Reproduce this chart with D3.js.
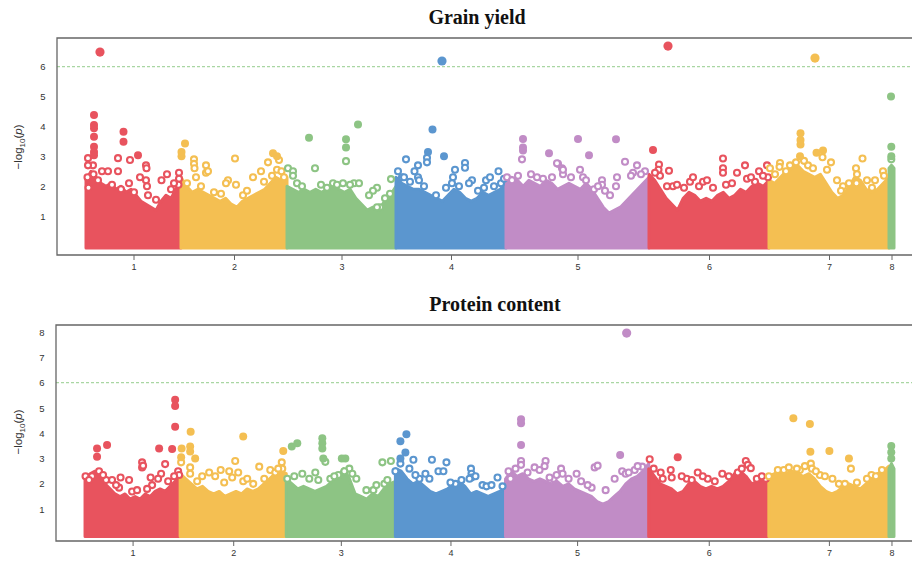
<!DOCTYPE html>
<html>
<head>
<meta charset="utf-8">
<script src="https://cdn.jsdelivr.net/npm/d3@7"></script>
<style>
  body { margin: 0; background: #fff; }
  svg { display: block; }
  .tick text { font-family: "Liberation Sans", Arial, sans-serif; fill: #333; }
  .title { font-family: "Liberation Serif", "Times New Roman", serif; font-weight: bold; font-size: 20px; fill: #111; }
  .ylab { font-family: "Liberation Sans", Arial, sans-serif; font-size: 11.5px; fill: #333; }
</style>
</head>
<body>
<svg id="chart" width="912" height="564"></svg>
<script>
// chromosomes and their lengths (Mb)
const chromosomes = ["1", "2", "3", "4", "5", "6", "7", "8"];
const chromLengths = [190, 212, 218, 220, 286, 240, 240, 10];
const chromColors = ["#e8535e", "#f4bf52", "#8dc484", "#5b96cf", "#c18cc6", "#e8535e", "#f4bf52", "#8dc484"];
const threshold = 6;

// upper edge of the dense SNP cloud, sampled evenly along each chromosome
const yieldEnvelope = [
    [2.2, 2.5, 2.3, 2.1, 2.0, 2.1, 1.9, 2.0, 1.8, 1.9, 1.7, 1.5, 1.4, 1.3, 1.2, 1.5, 1.7, 1.6, 1.9, 2.3],
    [2.3, 2.0, 1.8, 1.9, 1.8, 1.7, 1.6, 1.5, 1.6, 1.4, 1.3, 1.5, 1.6, 1.7, 1.8, 1.9, 2.1, 2.3, 2.2, 2.3],
    [2.0, 1.9, 1.8, 1.9, 1.8, 1.9, 1.8, 1.9, 2.0, 1.9, 1.8, 1.9, 1.6, 1.4, 1.2, 1.3, 1.2, 1.5, 1.7, 2.0],
    [2.3, 2.1, 2.0, 1.9, 1.9, 1.8, 1.7, 1.6, 1.5, 1.7, 1.9, 1.8, 1.6, 1.5, 1.6, 1.8, 1.7, 1.8, 1.9, 2.1],
    [2.1, 2.3, 2.2, 2.0, 2.2, 2.1, 2.0, 2.2, 2.1, 1.9, 2.0, 2.1, 2.0, 1.9, 2.1, 1.9, 1.6, 1.3, 1.1, 1.2, 1.3, 1.5, 1.7, 1.9, 2.1, 2.3],
    [2.4, 2.2, 1.9, 1.6, 1.4, 1.2, 1.6, 1.8, 1.7, 1.5, 1.6, 1.5, 1.7, 1.8, 1.6, 1.7, 1.9, 1.8, 2.0, 2.1, 2.0, 2.2],
    [2.2, 2.1, 2.3, 2.5, 2.6, 2.7, 2.5, 2.4, 2.3, 2.4, 2.1, 1.8, 1.6, 1.7, 2.0, 2.3, 2.2, 1.9, 1.8, 1.9, 2.1, 2.3],
    [2.6, 2.7, 2.6]
];
const proteinEnvelope = [
    [2.2, 2.4, 2.5, 2.3, 2.0, 1.8, 1.6, 1.5, 1.6, 1.4, 1.5, 1.4, 1.6, 1.5, 1.7, 1.8, 1.7, 1.9, 2.1, 2.4],
    [2.4, 2.2, 2.0, 1.8, 1.9, 1.7, 1.6, 1.7, 1.5, 1.6, 1.7, 1.6, 1.8, 1.7, 1.8, 2.0, 2.2, 2.4, 2.5, 2.4],
    [2.2, 2.0, 1.8, 1.9, 1.8, 1.7, 1.8, 1.9, 2.1, 2.3, 2.6, 2.2, 1.6, 1.5, 1.4, 1.6, 1.5, 1.8, 2.0, 2.1],
    [2.6, 2.5, 2.2, 2.0, 2.1, 1.9, 1.7, 1.6, 1.7, 1.8, 2.0, 2.1, 1.9, 1.6, 1.7, 1.6, 1.5, 1.6, 1.7, 1.8],
    [2.2, 2.5, 2.3, 2.4, 2.2, 2.1, 2.2, 2.1, 2.0, 2.1, 1.9, 2.0, 1.8, 1.7, 1.6, 1.5, 1.3, 1.2, 1.3, 1.5, 1.7, 2.0, 2.2, 2.3, 2.5, 2.8],
    [2.6, 2.3, 2.0, 1.9, 1.8, 1.6, 1.7, 2.0, 2.1, 1.9, 1.8, 1.9, 1.8, 1.9, 2.1, 2.4, 2.5, 2.3, 2.0, 2.1, 2.2, 2.1],
    [2.3, 2.4, 2.5, 2.4, 2.5, 2.4, 2.3, 2.4, 2.2, 1.9, 1.7, 1.6, 1.7, 1.9, 2.0, 1.9, 1.8, 2.0, 2.2, 2.4, 2.5, 2.7],
    [2.6, 2.8, 2.6]
];

// single SNPs above and along the top of the cloud: [chromosome, position (Mb), -log10(p)]
const yieldPoints = [
    [1,28,6.49],[1,16,4.38],[1,16,4.05],[1,16,3.94],[1,16,3.66],[1,16,3.32],[1,16,3.15],[1,16,3.04],[1,14,2.7],[1,15,2.4],
    [1,75,3.82],[1,75,3.49],[1,64,2.94],[1,88,2.88],[1,104,3.04],[1,120,2.7],[1,121,2.6],
    [1,4,2.94],[1,4,2.7],[1,3,2.3],[1,5,1.95],[1,32,2.5],[1,44,2.5],[1,64,2.5],[1,86,2.1],[1,108,2.3],
    [1,120,2.2],[1,122,2.0],[1,151,2.2],[1,162,2.4],[1,186,2.45],[1,186,2.25],[1,185,2.05],[1,124,1.7],
    [1,24,2.2],[1,52,2.05],[1,70,1.9],[1,96,1.8],[1,140,1.55],[1,170,1.9],[1,176,2.1],
    [2,8,3.43],[2,1,3.15],[2,1,3.0],[2,26,2.9],[2,26,2.75],[2,27,2.6],[2,50,2.7],[2,50,2.45],[2,54,2.5],
    [2,30,2.3],[2,108,2.93],[2,94,2.2],[2,90,2.1],[2,110,2.05],[2,124,1.7],[2,144,2.3],[2,160,2.5],
    [2,174,2.8],[2,184,3.1],[2,192,3.0],[2,196,2.88],[2,192,2.55],[2,201,2.5],
    [2,12,2.1],[2,40,2.0],[2,66,1.8],[2,80,1.75],[2,132,1.85],[2,166,2.15],[2,182,2.35],[2,206,2.3],
    [3,44,3.62],[3,56,2.6],[3,2,2.6],[3,12,2.5],[3,12,2.35],[3,20,2.1],[3,142,4.07],[3,118,3.57],
    [3,118,3.3],[3,118,2.84],[3,92,2.1],[3,100,2.05],[3,134,2.1],[3,144,2.1],[3,180,1.95],[3,172,1.85],
    [3,208,2.24],[3,186,1.3],[3,180,1.3],[3,164,1.7],[3,206,1.75],
    [3,30,2.0],[3,68,2.05],[3,80,1.95],[3,112,2.1],[3,126,2.05],[3,196,1.6],
    [4,92,6.19],[4,73,3.9],[4,64,3.15],[4,62,2.95],[4,62,2.8],[4,20,2.9],[4,96,3.0],[4,44,2.7],[4,37,2.5],
    [4,44,2.3],[4,46,2.2],[4,4,2.5],[4,12,2.3],[4,16,2.3],[4,138,2.78],[4,138,2.62],[4,118,2.55],
    [4,114,2.3],[4,112,2.1],[4,152,2.2],[4,146,2.1],[4,180,2.2],[4,188,2.3],[4,205,2.5],[4,210,2.1],
    [4,176,1.95],[4,80,1.7],
    [4,28,2.15],[4,56,2.0],[4,100,1.95],[4,126,2.0],[4,164,1.85],[4,196,2.0],[4,216,2.25],
    [5,34,3.58],[5,34,3.3],[5,34,3.2],[5,32,2.9],[5,86,3.1],[5,62,2.3],[5,2,2.3],[5,12,2.2],[5,104,2.75],
    [5,112,2.6],[5,114,2.4],[5,144,3.58],[5,166,3.04],[5,102,2.77],[5,114,2.55],[5,148,2.55],[5,154,2.3],
    [5,220,3.57],[5,238,2.82],[5,262,2.7],[5,254,2.45],[5,250,2.35],[5,278,2.5],[5,192,2.2],[5,192,2.05],
    [5,222,2.3],[5,220,2.0],[5,176,1.9],[5,198,1.85],[5,50,2.4],
    [5,24,2.35],[5,74,2.25],[5,92,2.3],[5,130,2.3],[5,160,2.2],[5,184,2.0],[5,208,1.7],[5,270,2.4],
    [6,38,6.69],[6,8,3.21],[6,20,2.73],[6,19,2.55],[6,40,2.52],[6,22,2.35],[6,36,2.0],[6,48,2.0],[6,56,2.05],
    [6,82,2.15],[6,88,2.3],[6,100,2.0],[6,108,2.15],[6,116,2.2],[6,148,2.93],[6,148,2.6],[6,148,2.45],
    [6,154,2.05],[6,176,2.45],[6,192,2.7],[6,196,2.25],[6,220,2.5],[6,212,2.15],[6,236,2.7],[6,238,2.3],
    [6,12,2.45],[6,70,1.95],[6,128,1.95],[6,166,2.1],[6,204,2.3],[6,228,2.35],
    [7,92,6.29],[7,63,3.77],[7,63,3.55],[7,63,3.4],[7,62,3.0],[7,95,3.12],[7,108,3.2],[7,107,2.97],
    [7,124,2.8],[7,22,2.78],[7,21,2.65],[7,42,2.7],[7,78,2.7],[7,187,2.93],[7,174,2.6],[7,176,2.4],
    [7,175,2.1],[7,212,2.2],[7,228,2.5],[7,230,2.35],[7,148,2.0],[7,144,1.85],[7,206,1.95],[7,2,2.6],
    [7,12,2.4],[7,34,2.5],[7,54,2.8],[7,70,2.85],[7,88,2.6],[7,116,2.55],[7,136,2.2],[7,160,2.1],[7,196,2.2],
    [8,4,5.0],[8,4.6,3.32],[8,4.6,3.0],[8,4.6,2.9]
];
const proteinPoints = [
    [1,180,5.32],[1,180,5.08],[1,180,4.26],[1,44,3.54],[1,24,3.4],[1,24,3.07],[1,148,3.4],[1,174,3.38],
    [1,114,2.85],[1,114,2.65],[1,116,2.72],[1,160,2.78],[1,152,2.4],[1,146,2.2],[1,1,2.3],[1,14,2.3],
    [1,28,2.5],[1,42,2.15],[1,54,2.15],[1,71,2.25],[1,88,2.15],[1,68,1.85],[1,94,1.7],[1,131,2.25],
    [1,134,1.95],[1,186,2.5],[1,188,2.35],
    [1,8,2.15],[1,36,2.35],[1,62,1.95],[1,104,1.75],[1,124,1.8],[1,166,2.1],[1,178,2.3],
    [2,21,4.06],[2,3,3.4],[2,20,3.48],[2,20,3.28],[2,30,3.0],[2,2,3.05],[2,2,2.85],[2,20,2.65],[2,20,2.4],
    [2,126,3.87],[2,110,2.9],[2,158,2.68],[2,81,2.55],[2,98,2.5],[2,116,2.45],[2,104,2.25],[2,44,2.3],
    [2,58,2.45],[2,70,2.3],[2,126,2.1],[2,134,2.2],[2,206,3.3],[2,203,2.85],[2,204,2.6],[2,180,2.55],
    [2,34,2.1],[2,88,2.05],[2,146,2.0],[2,168,2.2],[2,190,2.45],[2,196,2.6],
    [3,11,3.48],[3,22,3.6],[3,72,3.8],[3,72,3.6],[3,72,3.4],[3,74,3.0],[3,78,2.87],[3,32,2.4],[3,58,2.45],
    [3,46,2.2],[3,2,2.2],[3,111,3.0],[3,118,3.0],[3,126,2.6],[3,116,2.5],[3,104,2.35],[3,192,2.85],
    [3,209,2.9],[3,196,2.0],[3,202,2.15],[3,174,1.75],[3,160,1.75],[3,88,2.2],
    [3,16,2.3],[3,64,2.15],[3,96,2.3],[3,132,2.4],[3,140,2.2],[3,180,1.95],
    [4,22,3.96],[4,10,3.68],[4,20,3.24],[4,10,3.0],[4,10,2.8],[4,0,2.5],[4,36,2.95],[4,73,2.95],[4,102,2.85],
    [4,86,2.5],[4,96,2.5],[4,60,2.4],[4,48,2.2],[4,151,2.6],[4,152,2.4],[4,152,2.25],[4,148,2.2],
    [4,204,2.25],[4,214,1.9],[4,174,1.95],[4,182,1.9],[4,120,2.0],[4,110,2.05],
    [4,28,2.6],[4,40,2.35],[4,68,2.2],[4,132,2.15],[4,160,2.3],[4,192,1.95],
    [5,242,7.96],[5,31,4.55],[5,31,4.4],[5,31,3.54],[5,31,2.9],[5,31,2.75],[5,80,2.9],[5,78,2.7],[5,58,2.65],
    [5,68,2.55],[5,6,2.5],[5,10,2.2],[5,111,2.6],[5,114,2.4],[5,142,2.4],[5,96,2.2],[5,88,2.25],
    [5,229,3.14],[5,178,2.65],[5,184,2.72],[5,273,2.68],[5,233,2.5],[5,240,2.4],[5,246,2.45],[5,151,2.1],
    [5,218,2.2],[5,172,1.85],
    [5,20,2.6],[5,44,2.45],[5,102,2.35],[5,126,2.2],[5,164,1.95],[5,200,1.75],[5,258,2.55],[5,264,2.7],
    [6,2,2.97],[6,58,3.05],[6,44,2.55],[6,24,2.45],[6,98,2.45],[6,76,2.2],[6,118,2.2],[6,147,2.4],
    [6,194,2.9],[6,198,2.75],[6,204,2.62],[6,178,2.45],[6,216,2.2],[6,234,2.2],[6,28,2.2],[6,46,2.25],
    [6,10,2.6],[6,66,2.3],[6,86,2.15],[6,108,2.3],[6,132,2.1],[6,160,2.3],[6,186,2.6],[6,226,2.3],
    [7,49,4.59],[7,82,4.37],[7,83,3.27],[7,121,3.3],[7,160,3.0],[7,164,2.6],[7,84,2.8],[7,86,2.6],
    [7,18,2.55],[7,30,2.55],[7,62,2.55],[7,102,2.35],[7,127,2.2],[7,152,2.0],[7,205,2.35],[7,214,2.3],[7,0,2.3],
    [7,40,2.65],[7,56,2.6],[7,72,2.7],[7,94,2.5],[7,112,2.3],[7,140,2.0],[7,176,2.05],[7,196,2.2],[7,226,2.55],
    [8,4.6,3.5],[8,4.6,3.25],[8,4.6,3.0]
];

const yieldTicks = [1, 2, 3, 4, 5, 6];
const proteinTicks = [1, 2, 3, 4, 5, 6, 7, 8];

var svg = d3.select("#chart");

// cumulative chromosome starts
var starts = [];
chromLengths.reduce(function (acc, len) { starts.push(acc); return acc + len; }, 0);
var mids = starts.map(function (s, i) { return s + chromLengths[i] / 2; });

function drawPanel(cfg) {
    var g = svg.append("g");
    var box = cfg.box;
    var x = d3.scaleLinear().domain([-58, 1664]).range([box.left, box.right]);
    var y = d3.scaleLinear().domain(cfg.ydomain).range([box.bottom, box.top]);

    g.append("text")
     .attr("class", "title")
     .attr("x", cfg.titleX).attr("y", box.top - 14)
     .attr("text-anchor", "middle")
     .text(cfg.title);

    // dense cloud of SNPs per chromosome
    var area = d3.area()
        .x(function (d) { return x(d.p); })
        .y0(y(0) + 2)
        .y1(function (d) { return y(d.v); });
    cfg.envelope.forEach(function (env, ci) {
        var pts = env.map(function (v, i) {
            return { p: starts[ci] + chromLengths[ci] * i / (env.length - 1), v: v };
        });
        g.append("path")
         .attr("d", area(pts))
         .attr("fill", chromColors[ci])
         .attr("stroke", chromColors[ci])
         .attr("stroke-width", 3)
         .attr("stroke-linejoin", "round");
    });

    // threshold line
    g.append("line")
     .attr("x1", box.left).attr("x2", box.right)
     .attr("y1", y(threshold)).attr("y2", y(threshold))
     .attr("stroke", "#a9d6a2")
     .attr("stroke-width", 1.2)
     .attr("stroke-dasharray", "3,2");

    var pts = cfg.points.map(function (d) {
        return { c: d[0] - 1, p: starts[d[0] - 1] + d[1], v: d[2] };
    });
    var rings = pts.filter(function (d) { return d.v < 3; });
    var solid = pts.filter(function (d) { return d.v >= 3; });

    g.selectAll(".ring").data(rings).enter()
     .append("circle")
     .attr("class", "ring")
     .attr("cx", function (d) { return x(d.p); })
     .attr("cy", function (d) { return y(d.v); })
     .attr("r", 3)
     .attr("fill", "#fff")
     .attr("stroke", function (d) { return chromColors[d.c]; })
     .attr("stroke-width", 2.1);

    g.selectAll(".dot").data(solid).enter()
     .append("circle")
     .attr("class", "dot")
     .attr("cx", function (d) { return x(d.p); })
     .attr("cy", function (d) { return y(d.v); })
     .attr("r", function (d) { return d.v >= threshold ? 4.6 : 4; })
     .attr("fill", function (d) { return chromColors[d.c]; });

    // frame
    g.append("path")
     .attr("d", "M" + box.right + "," + box.top + "H" + box.left + "V" + box.bottom + "H" + box.right)
     .attr("fill", "none")
     .attr("stroke", "#666")
     .attr("stroke-width", 1.3);

    var xaxis = g.append("g")
        .attr("transform", "translate(0," + box.bottom + ")")
        .call(d3.axisBottom(x)
              .tickValues(mids)
              .tickSize(5)
              .tickPadding(4)
              .tickFormat(function (d, i) { return chromosomes[i]; }));
    xaxis.select(".domain").remove();
    xaxis.selectAll(".tick line").attr("stroke", "#666");
    xaxis.selectAll(".tick text").style("font-size", "9px");

    var yaxis = g.append("g")
        .attr("transform", "translate(" + (box.left - 9) + ",0)")
        .call(d3.axisLeft(y).tickValues(cfg.yticks).tickSize(0).tickPadding(0));
    yaxis.select(".domain").remove();
    yaxis.selectAll(".tick text").style("font-size", "9.5px").attr("text-anchor", "middle").attr("x", -5);

    var ylab = g.append("text")
        .attr("class", "ylab")
        .attr("transform", "translate(22," + cfg.ylabY + ") rotate(-90)")
        .attr("text-anchor", "middle");
    ylab.append("tspan").text("\u2212log");
    ylab.append("tspan").attr("font-size", "8px").attr("dy", 3).text("10");
    ylab.append("tspan").attr("dy", -3).text("(");
    ylab.append("tspan").attr("font-style", "italic").text("p");
    ylab.append("tspan").text(")");
}

drawPanel({
    title: "Grain yield",
    titleX: 477,
    box: { left: 57, right: 918, top: 38, bottom: 255 },
    ydomain: [-0.3, 6.96],
    yticks: yieldTicks,
    ylabY: 147,
    envelope: yieldEnvelope,
    points: yieldPoints
});

drawPanel({
    title: "Protein content",
    titleX: 495,
    box: { left: 56, right: 918, top: 325, bottom: 541 },
    ydomain: [-0.26, 8.28],
    yticks: proteinTicks,
    ylabY: 432,
    envelope: proteinEnvelope,
    points: proteinPoints
});
</script>
</body>
</html>
